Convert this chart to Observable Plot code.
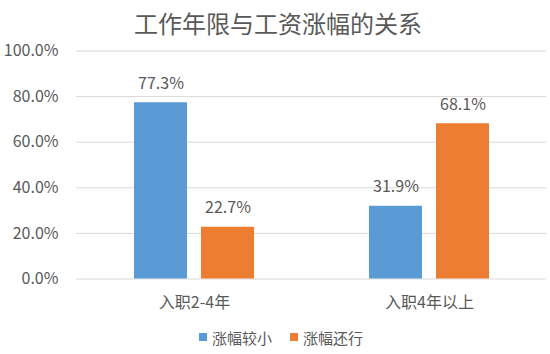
<!DOCTYPE html>
<html>
<head>
<meta charset="utf-8">
<script src="https://cdn.jsdelivr.net/npm/d3@7"></script>
<script src="https://cdn.jsdelivr.net/npm/@observablehq/plot@0.6"></script>
<style>
  body { margin: 0; background: #fff; font-family: "Noto Sans CJK SC", "Noto Sans", sans-serif; color: #595959; }
  #wrap { width: 550px; height: 354px; position: relative; }
  #title { height: 28px; line-height: 45px; text-align: center; font-size: 24px; color: #595959; padding-left: 6px; box-sizing: border-box; white-space: nowrap; }
  #chart svg { display: block; }
  #legend { height: 34px; display: flex; justify-content: center; align-items: center; gap: 18px; font-size: 15px; color: #595959; padding-left: 12px; box-sizing: border-box; }
  .item { display: flex; align-items: center; gap: 5px; }
  .sw { width: 8px; height: 8px; display: inline-block; }
</style>
</head>
<body>
<div id="wrap">
  <div id="title">工作年限与工资涨幅的关系</div>
  <div id="chart"></div>
  <div id="legend"></div>
</div>
<script>
const categories = ["入职2-4年", "入职4年以上"];
const seriesNames = ["涨幅较小", "涨幅还行"];
const smallValues = [0.773, 0.319];
const okValues = [0.227, 0.681];
const yTicks = [0, 0.2, 0.4, 0.6, 0.8, 1.0];
const colors = ["#5B9BD5", "#ED7D31"];

const smallRows = categories.map((c, i) => ({category: c, series: seriesNames[0], value: smallValues[i]}));
const okRows = categories.map((c, i) => ({category: c, series: seriesNames[1], value: okValues[i]}));
const pct = d => (d * 100).toFixed(1) + "%";

const chart = Plot.plot({
  width: 550,
  height: 292,
  marginLeft: 76,
  marginRight: 4,
  marginTop: 22.5,
  marginBottom: 41.5,
  style: {fontFamily: '"Noto Sans CJK SC", "Noto Sans", sans-serif', fontSize: "16px", color: "#595959", background: "transparent"},
  x: {domain: categories, paddingInner: 0.4894, paddingOuter: 0.2447, label: null, tickSize: 0, tickPadding: 18, fontSize: 15},
  y: {domain: [0, 1], ticks: yTicks, tickFormat: pct, label: null, tickSize: 0, tickPadding: 18},
  marks: [
    Plot.ruleY(yTicks, {stroke: "#d9d9d9", strokeWidth: 1}),
    Plot.barY(smallRows, {x: "category", y: "value", fill: colors[0], insetRight: 67}),
    Plot.barY(okRows, {x: "category", y: "value", fill: colors[1], insetLeft: 67}),
    Plot.text(smallRows, {x: "category", y: "value", text: d => pct(d.value), dx: -33.5, dy: -19, fill: "#595959", fontSize: 16}),
    Plot.text(okRows, {x: "category", y: "value", text: d => pct(d.value), dx: 33.5, dy: -19, fill: "#595959", fontSize: 16})
  ]
});
document.getElementById("chart").appendChild(chart);

const legend = document.getElementById("legend");
seriesNames.forEach((name, i) => {
  const item = document.createElement("div");
  item.className = "item";
  const sw = document.createElement("span");
  sw.className = "sw";
  sw.style.background = colors[i];
  const label = document.createElement("span");
  label.textContent = name;
  item.appendChild(sw);
  item.appendChild(label);
  legend.appendChild(item);
});
</script>
</body>
</html>
